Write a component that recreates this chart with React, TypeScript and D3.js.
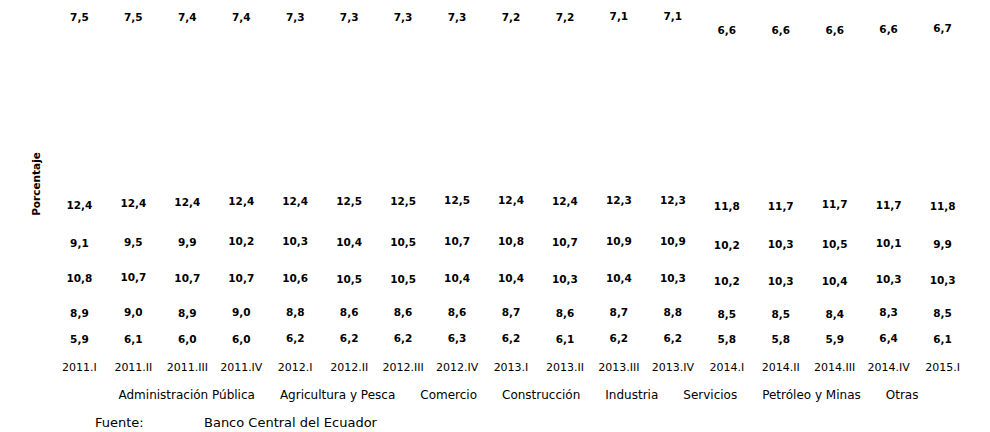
import { useEffect, useRef } from "react";
import * as d3 from "d3";

const categories = [
  "2011.I", "2011.II", "2011.III", "2011.IV",
  "2012.I", "2012.II", "2012.III", "2012.IV",
  "2013.I", "2013.II", "2013.III", "2013.IV",
  "2014.I", "2014.II", "2014.III", "2014.IV",
  "2015.I",
];

const seriesNames = [
  "Administración Pública", "Agricultura y Pesca", "Comercio", "Construcción",
  "Industria", "Servicios", "Petróleo y Minas", "Otras",
];

const adminPublica = [5.9, 6.1, 6.0, 6.0, 6.2, 6.2, 6.2, 6.3, 6.2, 6.1, 6.2, 6.2, 5.8, 5.8, 5.9, 6.4, 6.1];
const agricultura = [8.9, 9.0, 8.9, 9.0, 8.8, 8.6, 8.6, 8.6, 8.7, 8.6, 8.7, 8.8, 8.5, 8.5, 8.4, 8.3, 8.5];
const comercio = [10.8, 10.7, 10.7, 10.7, 10.6, 10.5, 10.5, 10.4, 10.4, 10.3, 10.4, 10.3, 10.2, 10.3, 10.4, 10.3, 10.3];
const construccion = [9.1, 9.5, 9.9, 10.2, 10.3, 10.4, 10.5, 10.7, 10.8, 10.7, 10.9, 10.9, 10.2, 10.3, 10.5, 10.1, 9.9];
const industria = [12.4, 12.4, 12.4, 12.4, 12.4, 12.5, 12.5, 12.5, 12.4, 12.4, 12.3, 12.3, 11.8, 11.7, 11.7, 11.7, 11.8];
// labels for these two are not shown in the source, values estimated from layout
const servicios = [43.3, 42.7, 42.6, 42.2, 42.2, 42.3, 42.2, 42.0, 42.1, 42.5, 42.5, 42.5, 40.7, 40.6, 40.3, 40.7, 41.1];
const petroleo = [7.5, 7.5, 7.4, 7.4, 7.3, 7.3, 7.3, 7.3, 7.2, 7.2, 7.1, 7.1, 6.6, 6.6, 6.6, 6.6, 6.7];
const otras = [2.1, 2.1, 2.1, 2.1, 2.1, 2.1, 2.1, 2.1, 2.1, 2.1, 2.1, 2.1, 6.2, 6.2, 6.2, 5.9, 5.6];

const hiddenLabels = ["Servicios", "Otras"];

export default function App() {
  const ref = useRef<SVGSVGElement>(null);
  const width = 990;
  const height = 432;

  useEffect(() => {
    const svg = d3.select(ref.current);
    svg.selectAll("*").remove();

    const values = [adminPublica, agricultura, comercio, construccion, industria, servicios, petroleo, otras];
    const table = categories.map((c, i) => {
      const row: any = { cat: c };
      seriesNames.forEach((s, j) => (row[s] = values[j][i]));
      return row;
    });
    const stacked = d3.stack().keys(seriesNames)(table);

    const x = d3.scaleBand().domain(categories).range([40.3, 981.7]).padding(0.45);
    const y = d3.scaleLinear().domain([0, 100]).range([349.4, -3.6]);

    const font = "'DejaVu Sans', sans-serif";

    // bars (white, as in the source)
    const layers = svg.append("g").attr("class", "bars");
    stacked.forEach((layer) => {
      layers.append("g")
        .selectAll("rect")
        .data(layer)
        .join("rect")
        .attr("x", (d: any) => x(d.data.cat)!)
        .attr("width", x.bandwidth())
        .attr("y", (d) => y(d[1]))
        .attr("height", (d) => y(d[0]) - y(d[1]))
        .attr("fill", "#ffffff");
    });

    // data labels
    const fmt = (v: number) => v.toFixed(1).replace(".", ",");
    stacked
      .filter((layer) => !hiddenLabels.includes(layer.key))
      .forEach((layer) => {
        svg.append("g")
          .selectAll("text")
          .data(layer)
          .join("text")
          .attr("x", (d: any) => x(d.data.cat)! + x.bandwidth() / 2)
          .attr("y", (d) => y((d[0] + d[1]) / 2))
          .attr("text-anchor", "middle")
          .attr("dominant-baseline", "central")
          .style("font-family", font)
          .style("font-size", "10.5px")
          .style("font-weight", "bold")
          .attr("fill", "#000")
          .text((d) => fmt(d[1] - d[0]));
      });

    // category axis labels
    svg.append("g")
      .attr("transform", "translate(0,367)")
      .call(d3.axisBottom(x).tickSize(0).tickPadding(0))
      .call((g) => g.select(".domain").remove())
      .selectAll("text")
      .attr("dy", null)
      .attr("y", 0)
      .attr("dominant-baseline", "central")
      .style("font-family", font)
      .style("font-size", "11px")
      .attr("fill", "#000");

    // y axis title
    svg.append("text")
      .attr("transform", "translate(36,184) rotate(-90)")
      .attr("text-anchor", "middle")
      .attr("dominant-baseline", "central")
      .style("font-family", font)
      .style("font-size", "10.5px")
      .style("font-weight", "bold")
      .text("Porcentaje");

    // legend (no visible swatches)
    const legend = svg.append("g").attr("transform", "translate(0,395)");
    const items = legend.selectAll("text")
      .data(seriesNames)
      .join("text")
      .attr("dominant-baseline", "central")
      .style("font-family", font)
      .style("font-size", "12px")
      .attr("fill", "#000")
      .text((d) => d);
    const gap = 25;
    const widths = items.nodes().map((n: any) => n.getComputedTextLength());
    const total = d3.sum(widths) + gap * (widths.length - 1);
    let cx = 518.5 - total / 2;
    items.attr("x", (_d, i) => {
      const pos = cx;
      cx += widths[i] + gap;
      return pos;
    });

    // source
    svg.append("text")
      .attr("x", 95)
      .attr("y", 422)
      .attr("dominant-baseline", "central")
      .style("font-family", font)
      .style("font-size", "13px")
      .text("Fuente:");
    svg.append("text")
      .attr("x", 204)
      .attr("y", 422)
      .attr("dominant-baseline", "central")
      .style("font-family", font)
      .style("font-size", "13px")
      .text("Banco Central del Ecuador");
  }, []);

  return (
    <svg
      ref={ref}
      width={width}
      height={height}
      style={{ position: "absolute", left: 0, top: 0, background: "#fff" }}
    />
  );
}
